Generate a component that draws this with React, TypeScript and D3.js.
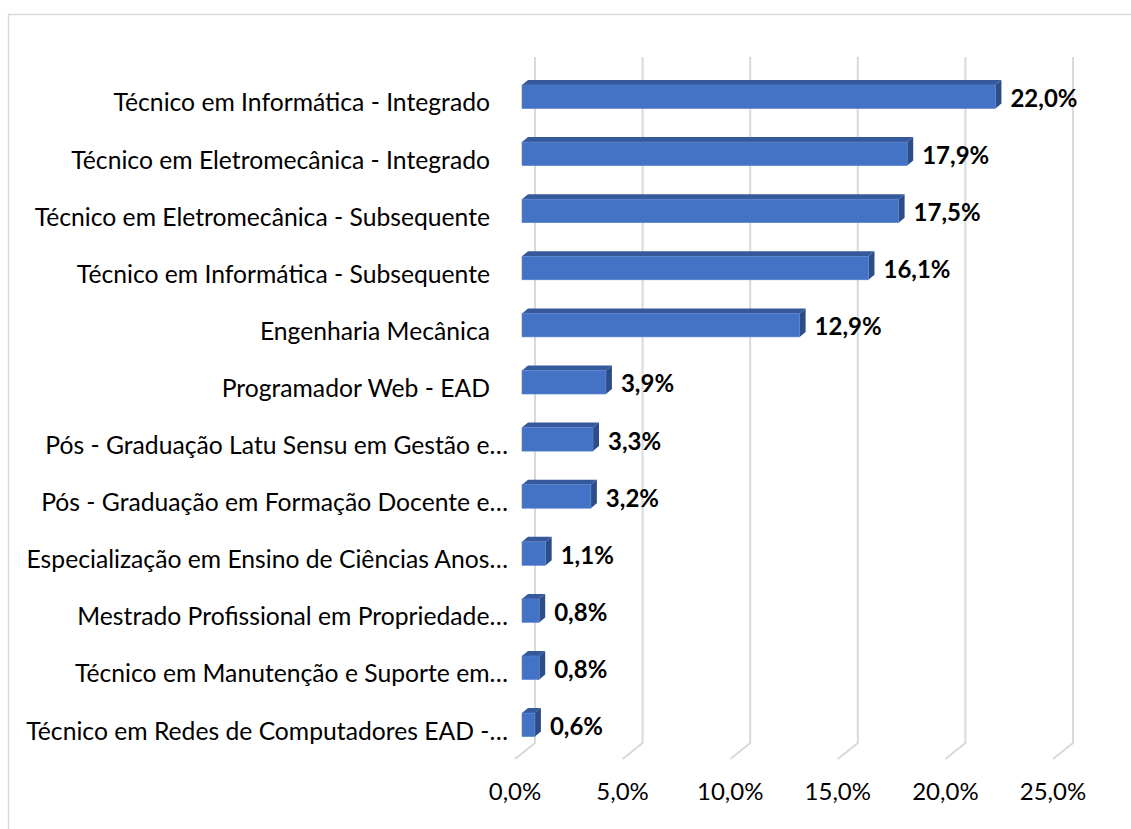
import * as d3 from 'd3'

const categories = [
  'Técnico em Informática - Integrado',
  'Técnico em Eletromecânica - Integrado',
  'Técnico em Eletromecânica - Subsequente',
  'Técnico em Informática - Subsequente',
  'Engenharia Mecânica',
  'Programador Web - EAD',
  'Pós - Graduação Latu Sensu em Gestão e…',
  'Pós - Graduação em Formação Docente e…',
  'Especialização em Ensino de Ciências Anos…',
  'Mestrado Profissional em Propriedade…',
  'Técnico em Manutenção e Suporte em…',
  'Técnico em Redes de Computadores EAD -…',
]
const values = [22.0, 17.9, 17.5, 16.1, 12.9, 3.9, 3.3, 3.2, 1.1, 0.8, 0.8, 0.6]
const ticks = [0, 5, 10, 15, 20, 25]

const W = 1131
const H = 829
const FONT = 'Lato, Carlito, "Noto Sans", sans-serif'
const FS = 24
const CAT_FS = 24.7

// 3D offsets
const FLOOR_DX = -20
const FLOOR_DY = 16
const BAR_DX = 6
const BAR_DY = -5
const BAR_SHIFT = -13

const fmt = (v: number) => v.toFixed(1).replace('.', ',') + '%'

export default function App() {
  const x = d3.scaleLinear().domain([0, 25]).range([535, 1073])
  const y = d3.scaleBand<string>().domain(categories).range([51.4, 770.2]).padding(0.588)
  const bw = y.bandwidth()
  const gridTop = 57
  const gridBottom = 743

  return (
    <svg width={W} height={H} style={{ position: 'absolute', left: 0, top: 0 }} fontFamily={FONT}>
      <rect x={0} y={0} width={W} height={H} fill="#fff" />
      <rect x={8.5} y={14.5} width={1140} height={840} fill="none" stroke="#d9d9d9" strokeWidth={1.5} />

      {ticks.map(t => (
        <path
          key={t}
          d={`M${x(t)},${gridTop}V${gridBottom}L${x(t) + FLOOR_DX},${gridBottom + FLOOR_DY}`}
          fill="none"
          stroke="#d9d9d9"
          strokeWidth={2}
        />
      ))}

      {ticks.map(t => (
        <text key={t} x={x(t) + FLOOR_DX} y={800} textAnchor="middle" fontSize={FS} fill="#000">
          {fmt(t)}
        </text>
      ))}

      {categories.map((c, i) => {
        const v = values[i]
        const x0 = x(0) + BAR_SHIFT
        const x1 = x(v) + BAR_SHIFT
        const yt = y(c) as number
        const yb = yt + bw
        const top = `M${x0},${yt}L${x0 + BAR_DX},${yt + BAR_DY}L${x1 + BAR_DX},${yt + BAR_DY}L${x1},${yt}Z`
        const side = `M${x1},${yt}L${x1 + BAR_DX},${yt + BAR_DY}L${x1 + BAR_DX},${yb + BAR_DY}L${x1},${yb}Z`
        const truncated = c.endsWith('…')
        return (
          <g key={c}>
            <path d={top} fill="#35599b" />
            <path d={side} fill="#2c4d87" />
            <rect x={x0} y={yt} width={x1 - x0} height={bw} fill="#4472c4" stroke="#5a84d0" strokeWidth={0.6} />
            <text x={x1 + BAR_DX + 9} y={yt + 22} fontSize={FS} fontWeight="bold" fill="#000">
              {fmt(v)}
            </text>
            <text x={truncated ? 508 : 490} y={yt + 26.5} textAnchor="end" fontSize={CAT_FS} fill="#000">
              {c}
            </text>
          </g>
        )
      })}
    </svg>
  )
}
